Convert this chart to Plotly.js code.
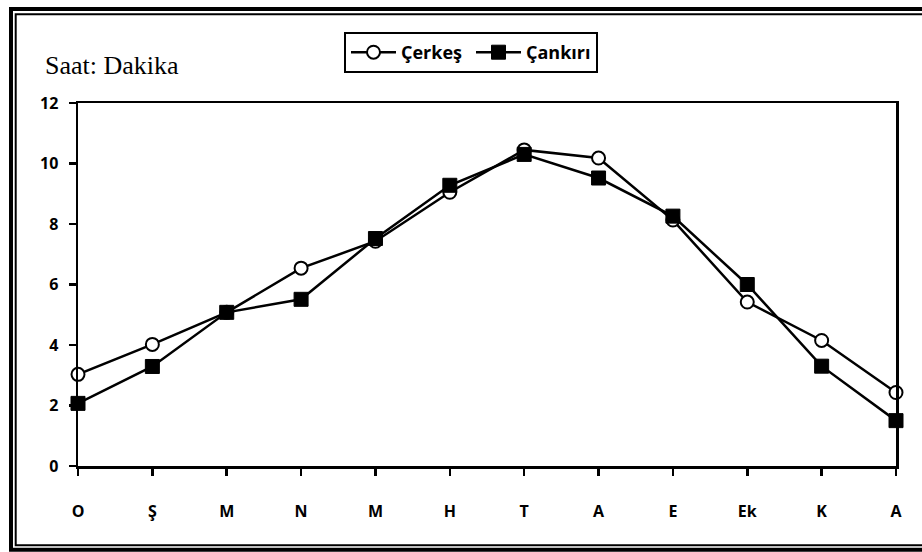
<!DOCTYPE html>
<html>
<head>
<meta charset="utf-8">
<script src="https://cdn.plot.ly/plotly-3.0.1.min.js"></script>
<style>
  html, body { margin: 0; padding: 0; background: #fff; }
  #chart { width: 922px; height: 552px; }
</style>
</head>
<body>
<div id="chart"></div>
<script>
const months = ["O", "Ş", "M", "N", "M", "H", "T", "A", "E", "Ek", "K", "A"];
const cerkes = [3.03, 4.02, 5.08, 6.54, 7.43, 9.05, 10.45, 10.18, 8.13, 5.42, 4.15, 2.43];
const cankiri = [2.07, 3.29, 5.08, 5.51, 7.52, 9.28, 10.3, 9.52, 8.26, 6.0, 3.3, 1.5];
const yTicks = [0, 2, 4, 6, 8, 10, 12];
const unitLabel = "Saat: Dakika";
const seriesNames = ["Çerkeş", "Çankırı"];

const xIdx = months.map((_, i) => i);

// plot-area pixel geometry
const L = 78, R = 896, T = 103, B = 466, W = 922, H = 552;
const px = v => (v - L) / (R - L);
const py = v => (B - v) / (B - T);

const traces = [
  {
    x: xIdx, y: cerkes, name: seriesNames[0], type: "scatter", mode: "lines+markers",
    line: { color: "#000", width: 2.5 },
    marker: { symbol: "circle", size: 13, color: "#fff", line: { color: "#000", width: 2 } },
    cliponaxis: false
  },
  {
    x: xIdx, y: cankiri, name: seriesNames[1], type: "scatter", mode: "lines+markers",
    line: { color: "#000", width: 2.5 },
    marker: { symbol: "square", size: 14, color: "#000", line: { color: "#000", width: 1 } },
    cliponaxis: false
  }
];

const tickFont = { family: "Open Sans, sans-serif", size: 16, color: "#000", weight: "bold" };

const layout = {
  width: W, height: H,
  margin: { l: L, r: W - R, t: T, b: H - B, pad: 0 },
  paper_bgcolor: "#fff", plot_bgcolor: "#fff",
  showlegend: true,
  legend: {
    orientation: "h",
    x: px(344), y: py(32), xanchor: "left", yanchor: "top",
    bordercolor: "#000", borderwidth: 2, bgcolor: "#fff",
    font: { family: "Open Sans, sans-serif", size: 18, color: "#000", weight: "bold" },
    itemwidth: 45, entrywidth: 65, tracegroupgap: 0
  },
  xaxis: {
    range: [0, 11], tickmode: "array", tickvals: xIdx, ticktext: months,
    showline: true, linecolor: "#000", linewidth: 2.5, mirror: true,
    ticks: "outside", ticklen: 7, tickwidth: 2.5, tickcolor: "#000",
    showgrid: false, zeroline: false, tickfont: tickFont, ticklabelstandoff: 22,
    fixedrange: true
  },
  yaxis: {
    range: [0, 12], tickmode: "array", tickvals: yTicks,
    showline: true, linecolor: "#000", linewidth: 2.5, mirror: true,
    ticks: "outside", ticklen: 7, tickwidth: 2.5, tickcolor: "#000",
    showgrid: false, zeroline: false, tickfont: tickFont, ticklabelstandoff: 7,
    fixedrange: true
  },
  annotations: [
    {
      text: unitLabel, xref: "paper", yref: "paper",
      x: px(43), y: py(66), xanchor: "left", yanchor: "middle", showarrow: false,
      font: { family: "Liberation Serif, Times New Roman, serif", size: 26, color: "#000" }
    }
  ],
  shapes: [
    {
      type: "path", xref: "paper", yref: "paper",
      path: `M ${px(940)} ${py(9)} L ${px(11)} ${py(9)} L ${px(11)} ${py(549.8)} L ${px(940)} ${py(549.8)}`,
      line: { color: "#000", width: 4 }
    },
    {
      type: "path", xref: "paper", yref: "paper",
      path: `M ${px(940)} ${py(14.2)} L ${px(15.7)} ${py(14.2)} L ${px(15.7)} ${py(545.2)} L ${px(940)} ${py(545.2)}`,
      line: { color: "#000", width: 2 }
    }
  ]
};

Plotly.newPlot("chart", traces, layout, { staticPlot: true, displayModeBar: false });
</script>
</body>
</html>
